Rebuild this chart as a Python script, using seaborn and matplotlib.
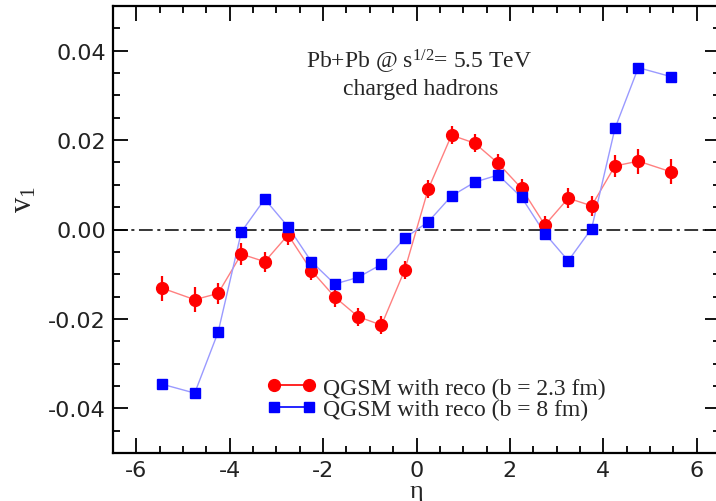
import numpy as np
import pandas as pd
import matplotlib
matplotlib.use("Agg")
import matplotlib.pyplot as plt
from matplotlib.lines import Line2D
from matplotlib.ticker import MultipleLocator, FormatStrFormatter, FuncFormatter
import seaborn as sns

# pseudorapidity bins
eta = [-5.45, -4.75, -4.25, -3.75, -3.25, -2.75, -2.25, -1.75, -1.25, -0.75, -0.25,
       0.25, 0.75, 1.25, 1.75, 2.25, 2.75, 3.25, 3.75, 4.25, 4.75, 5.45]

# directed flow, b = 2.3 fm
v1_b23 = [-0.0131, -0.0157, -0.0143, -0.0055, -0.0072, -0.0012, -0.0092, -0.0151,
          -0.0195, -0.0214, -0.0090, 0.0090, 0.0211, 0.0193, 0.0148, 0.0092,
          0.0010, 0.0070, 0.0053, 0.0142, 0.0153, 0.0129]
err_b23 = [0.0028, 0.0028, 0.0023, 0.0025, 0.0022, 0.0022, 0.0022, 0.0022,
           0.0020, 0.0020, 0.0020, 0.0020, 0.0020, 0.0020, 0.0020, 0.0020,
           0.0020, 0.0022, 0.0023, 0.0025, 0.0028, 0.0028]

# directed flow, b = 8 fm
v1_b8 = [-0.0346, -0.0366, -0.0230, -0.0005, 0.0068, 0.0006, -0.0072, -0.0122,
         -0.0107, -0.0078, -0.0019, 0.0017, 0.0075, 0.0106, 0.0122, 0.0072,
         -0.0009, -0.0070, 0.0002, 0.0226, 0.0362, 0.0342]
err_b8 = [0.0010] * len(eta)

labels = ["QGSM with reco (b = 2.3 fm)", "QGSM with reco (b = 8 fm)"]

sns.set_theme(style="ticks")
plt.rcParams["font.family"] = ["DejaVu Sans"]
plt.rcParams["mathtext.fontset"] = "custom"
plt.rcParams["mathtext.rm"] = "Liberation Serif"
plt.rcParams["mathtext.it"] = "Liberation Serif"

SERIF = "Liberation Serif"

fig = plt.figure(figsize=(7.16, 5.02), dpi=100)
ax = fig.add_axes([113 / 716, 48 / 502, 607 / 716, 447 / 502])

df = pd.DataFrame({"eta": eta * 2,
                   "v1": v1_b23 + v1_b8,
                   "set": [labels[0]] * len(eta) + [labels[1]] * len(eta)})

# thin connecting lines
sns.lineplot(data=df, x="eta", y="v1", hue="set",
             palette={labels[0]: "#ff8080", labels[1]: "#9a9aff"},
             linewidth=1.0, legend=False, ax=ax, zorder=2)

# points with error bars
ax.errorbar(eta, v1_b23, yerr=err_b23, fmt="o", color="#ff0000", ms=8.5,
            elinewidth=1.6, capsize=0, zorder=3)
ax.errorbar(eta, v1_b8, yerr=err_b8, fmt="s", color="#0000ff", ms=7.5,
            elinewidth=1.6, capsize=0, zorder=4)

# zero line
ax.axhline(0.0, color="black", lw=1.1, ls=(0, (9, 3, 2, 3)), zorder=1)

ax.set_xlim(-6.5, 6.5)
ax.set_ylim(-0.05, 0.05)
ax.xaxis.set_major_locator(MultipleLocator(2))
ax.xaxis.set_minor_locator(MultipleLocator(0.5))
ax.yaxis.set_major_locator(MultipleLocator(0.02))
ax.yaxis.set_minor_locator(MultipleLocator(0.005))
ax.yaxis.set_major_formatter(FormatStrFormatter("%.2f"))
ax.xaxis.set_major_formatter(FuncFormatter(
    lambda v, p: f"{int(round(v))}" if v >= 0 else f"-{int(round(-v))}"))

ax.tick_params(which="both", direction="in", top=True, right=True,
               color="black", width=1.3)
ax.tick_params(which="major", length=10.5, labelsize=16, pad=5,
               labelcolor="#222222")
ax.tick_params(which="minor", length=5)
for s in ax.spines.values():
    s.set_linewidth(1.6)
    s.set_color("black")

ax.set_xlabel("η", fontsize=19, family=SERIF, labelpad=0)
ax.set_ylabel("v$_1$", fontsize=22, family=SERIF)
ax.yaxis.set_label_coords(-0.122, 0.57)

ax.text(0.06, 0.0376, r"Pb+Pb @ s$^{1/2}$= 5.5 TeV", fontsize=17,
        family=SERIF, ha="center", va="center")
ax.text(0.1, 0.0316, "charged hadrons", fontsize=17,
        family=SERIF, ha="center", va="center")

handles = [Line2D([], [], color="#ff0000", marker="o", ms=8.5, lw=1.2),
           Line2D([], [], color="#0000ff", marker="s", ms=7.5, lw=1.2)]
ax.legend(handles, labels, loc="upper left", bbox_to_anchor=(0.253, 0.17),
          frameon=False, numpoints=2, handlelength=2.1, handletextpad=0.3,
          labelspacing=0.0, borderpad=0, borderaxespad=0,
          prop={"family": SERIF, "size": 17})

fig.savefig("out.png", dpi=100)
